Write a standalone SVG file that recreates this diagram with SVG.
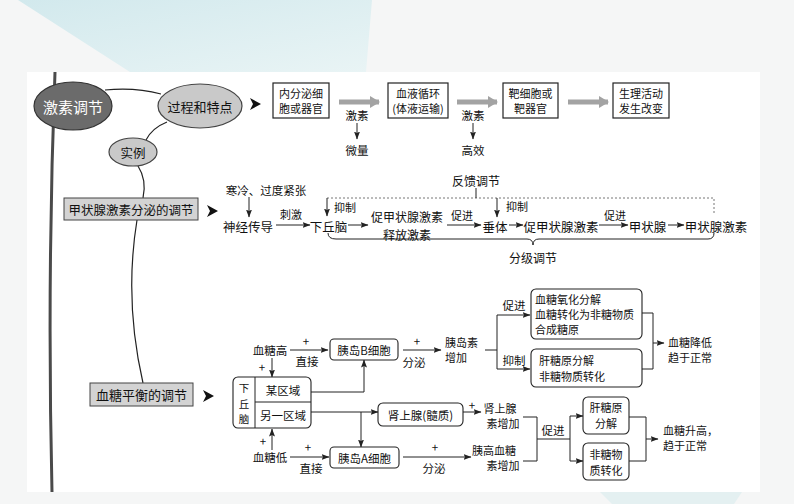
<svg xmlns="http://www.w3.org/2000/svg" width="794" height="504" viewBox="0 0 794 504">
<defs>
<style>
.t{font-family:"Noto Sans CJK SC","Liberation Sans",sans-serif;fill:#111;text-anchor:middle;dominant-baseline:central}
.s{font-size:11.5px}
.s2{font-size:11px}
.m{font-size:12.5px}
.l{text-anchor:start}
.box{fill:#fff;stroke:#222;stroke-width:1.2}
.rb{fill:#fff;stroke:#222;stroke-width:1.1}
.gb{fill:#d3d3d3;stroke:#444;stroke-width:1}
.ln{fill:none;stroke:#222;stroke-width:1}
.ar{fill:none;stroke:#222;stroke-width:1;marker-end:url(#ah)}
.ga{fill:none;stroke:#a3a3a3;stroke-width:5;marker-end:url(#gah)}
.cv{fill:none;stroke:#222;stroke-width:1.2}
.tri{fill:#111}
</style>
<marker id="ah" markerWidth="8" markerHeight="6" refX="7.5" refY="3" orient="auto" markerUnits="userSpaceOnUse"><path d="M0,0 L8,3 L0,6 L1.5,3 Z" fill="#222"/></marker>
<marker id="gah" markerWidth="10" markerHeight="12" refX="9" refY="6" orient="auto" markerUnits="userSpaceOnUse"><path d="M0,0 L10,6 L0,12 Z" fill="#a3a3a3"/></marker>
<linearGradient id="tg" x1="0" y1="0" x2="1" y2="1"><stop offset="0" stop-color="#d2e9ed"/><stop offset="1" stop-color="#e9f4f5"/></linearGradient>
</defs>
<rect x="0" y="0" width="794" height="504" fill="#f5f6f6"/>
<polygon points="18,0 372,0 366,72 130,72" fill="url(#tg)"/>
<polygon points="600,492 742,492 734,504 612,504" fill="#e4f0f1"/>
<rect x="27" y="72" width="733" height="420" fill="#fff"/>

<g id="connectors">
<path d="M55,72 Q47,280 52,492" fill="none" stroke="#4a4a4a" stroke-width="3"/>
<path class="cv" d="M105,90 Q135,87 161,94"/>
<path class="cv" d="M167,122 Q152,128 146,140"/>
<path class="cv" d="M138,166 Q147,180 143,198"/>
<path class="cv" d="M137,220 Q124,300 143,383"/>
<path class="tri" d="M250,98 L261,104 L250,110 L253,104 Z"/>
<path class="tri" d="M207,205 L218,211 L207,217 L210,211 Z"/>
<path class="tri" d="M203,390 L214,396 L203,402 L206,396 Z"/>
<path class="ga" d="M339,102 H379"/>
<path class="ga" d="M457,102 H497"/>
<path class="ga" d="M568,102 H608"/>
<path class="ar" d="M357,123 V139"/>
<path class="ar" d="M473,123 V139"/>
<path class="ar" d="M249,197 V217"/>
<path class="ar" d="M276,225 H310"/>
<path class="ar" d="M348,225 H368"/>
<path class="ar" d="M447,225 H481"/>
<path class="ar" d="M509,225 H523"/>
<path class="ar" d="M599,225 H628"/>
<path class="ar" d="M668,225 H684"/>
<path d="M327,198 H714 V215" fill="none" stroke="#777" stroke-width="1" stroke-dasharray="2,2"/>
<path class="ar" d="M327,198 V216"/>
<path class="ar" d="M497,198 V217"/>
<path class="ln" d="M476,188 V198"/>
<path class="ln" d="M328,233 Q328,239 336,239 H527 Q533,239 533,245 Q533,239 539,239 H708 Q714,239 714,233"/>
<path class="ar" d="M290,350 H328"/>
<path class="ar" d="M403,350 H441"/>
<path class="ln" d="M485,350 H497 M497,315 V369"/>
<path class="ar" d="M497,315 H530"/>
<path class="ar" d="M497,369 H530"/>
<path class="ln" d="M642,313 H653 V369 H642"/>
<path class="ar" d="M653,343 H664"/>
<path class="ar" d="M272,358 V377"/>
<path class="ar" d="M311,392 H364 V360"/>
<path class="ar" d="M311,412 H378"/>
<path class="ar" d="M361,412 V447"/>
<path class="ar" d="M463,412 H481"/>
<path class="ar" d="M272,450 V429"/>
<path class="ar" d="M290,457 H329"/>
<path class="ar" d="M403,457 H471"/>
<path class="ln" d="M523,417 H537 V461 H523 M537,439 H570 M570,416 V461"/>
<path class="ar" d="M570,416 H583"/>
<path class="ar" d="M570,461 H583"/>
<path class="ln" d="M629,417 H646 V461 H629"/>
<path class="ar" d="M646,439 H658"/>
</g>

<g id="n-jisu">
<ellipse cx="73" cy="106" rx="39" ry="24" fill="#6b6b6b" stroke="#333" stroke-width="1.2"/>
<text class="t" x="73" y="106" style="font-size:15px;fill:#fff">激素调节</text>
</g>
<g id="n-guocheng">
<ellipse cx="200" cy="106" rx="42" ry="22" fill="#c9c9c9" stroke="#444" stroke-width="1.2"/>
<text class="t" x="200" y="106" style="font-size:13px">过程和特点</text>
</g>
<g id="n-shili">
<ellipse cx="133" cy="152" rx="24" ry="14" fill="#c9c9c9" stroke="#444" stroke-width="1.2"/>
<text class="t" x="133" y="152" style="font-size:12.5px">实例</text>
</g>
<g id="n-jiazhuang">
<rect class="gb" x="64" y="198" width="134" height="22"/>
<text class="t m" x="131" y="209">甲状腺激素分泌的调节</text>
</g>
<g id="n-xuetang">
<rect class="gb" x="90" y="383" width="103" height="23"/>
<text class="t" x="141.5" y="394.5" style="font-size:13px">血糖平衡的调节</text>
</g>

<g id="n-top1"><rect class="box" x="273" y="83" width="56" height="35"/><text class="t s2"><tspan x="301" y="93">内分泌细</tspan><tspan x="301" y="108">胞或器官</tspan></text></g>
<g id="n-top2"><rect class="box" x="388" y="83" width="60" height="35"/><text class="t s2"><tspan x="418" y="93">血液循环</tspan><tspan x="418" y="108">(体液运输)</tspan></text></g>
<g id="n-top3"><rect class="box" x="503" y="83" width="55" height="35"/><text class="t s2"><tspan x="530.5" y="93">靶细胞或</tspan><tspan x="530.5" y="108">靶器官</tspan></text></g>
<g id="n-top4"><rect class="box" x="613" y="83" width="56" height="35"/><text class="t s2"><tspan x="641" y="93">生理活动</tspan><tspan x="641" y="108">发生改变</tspan></text></g>
<g id="lbl-top">
<text class="t s" x="357" y="115">激素</text><text class="t s" x="357" y="150">微量</text>
<text class="t s" x="473" y="115">激素</text><text class="t s" x="473" y="150">高效</text>
</g>

<g id="thyroid-row">
<text class="t s" x="266" y="190">寒冷、过度紧张</text>
<text class="t m" x="248" y="226">神经传导</text>
<text class="t" x="291" y="214" style="font-size:11px">刺激</text>
<text class="t m" x="328.5" y="226">下丘脑</text>
<text class="t" x="345" y="207" style="font-size:11px">抑制</text>
<text class="t" style="font-size:12px"><tspan x="407" y="216">促甲状腺激素</tspan><tspan x="407" y="234">释放激素</tspan></text>
<text class="t" x="462" y="215" style="font-size:11px">促进</text>
<text class="t m" x="495" y="226">垂体</text>
<text class="t" x="517" y="206" style="font-size:11px">抑制</text>
<text class="t m" x="561" y="226">促甲状腺激素</text>
<text class="t" x="615" y="215" style="font-size:11px">促进</text>
<text class="t m" x="647.5" y="226">甲状腺</text>
<text class="t m" x="716" y="226">甲状腺激素</text>
<text class="t" x="476" y="180" style="font-size:12px">反馈调节</text>
<text class="t" x="533" y="257" style="font-size:12px">分级调节</text>
</g>

<g id="n-bcell"><rect class="rb" x="330" y="339" width="68" height="21" rx="4"/><text class="t s" x="364" y="350">胰岛B细胞</text></g>
<g id="n-acell"><rect class="rb" x="330" y="447" width="69" height="21" rx="4"/><text class="t s" x="364.5" y="457.5">胰岛A细胞</text></g>
<g id="n-xqn">
<rect class="rb" x="233" y="377" width="78" height="51" rx="5"/>
<path class="ln" d="M255,377 V428 M255,402 H311"/>
<text class="t" style="font-size:10.5px"><tspan x="244" y="387">下</tspan><tspan x="244" y="402.5">丘</tspan><tspan x="244" y="418">脑</tspan></text>
<text class="t s" x="283" y="390">某区域</text>
<text class="t s" x="283" y="415">另一区域</text>
</g>
<g id="n-shenshang"><rect class="rb" x="378" y="403" width="85" height="23" rx="5"/><text class="t s" x="420.5" y="414.5">肾上腺(髓质)</text></g>
<g id="n-up1"><rect class="rb" x="531" y="289" width="111" height="50" rx="5"/>
<text class="t s2 l"><tspan x="535" y="299">血糖氧化分解</tspan><tspan x="535" y="314">血糖转化为非糖物质</tspan><tspan x="535" y="329">合成糖原</tspan></text></g>
<g id="n-up2"><rect class="rb" x="531" y="349" width="111" height="38" rx="5"/>
<text class="t s2 l"><tspan x="539" y="360">肝糖原分解</tspan><tspan x="539" y="376">非糖物质转化</tspan></text></g>
<g id="n-gan"><rect class="rb" x="583" y="397" width="46" height="37" rx="5"/><text class="t s2"><tspan x="606" y="407">肝糖原</tspan><tspan x="606" y="423">分解</tspan></text></g>
<g id="n-feitang"><rect class="rb" x="583" y="443" width="46" height="37" rx="5"/><text class="t s2"><tspan x="606" y="454">非糖物</tspan><tspan x="606" y="470">质转化</tspan></text></g>

<g id="glucose-labels">
<text class="t s" x="270" y="350">血糖高</text>
<text class="t s" x="306" y="341">+</text><text class="t s" x="307" y="361">直接</text>
<text class="t s" x="417" y="341">+</text><text class="t s" x="414" y="362">分泌</text>
<text class="t s2 l"><tspan x="445" y="342">胰岛素</tspan><tspan x="445" y="357">增加</tspan></text>
<text class="t s" x="514" y="305">促进</text><text class="t s" x="514" y="360">抑制</text>
<text class="t s2 l"><tspan x="668" y="342">血糖降低</tspan><tspan x="668" y="357">趋于正常</tspan></text>
<text class="t s" x="262" y="367">+</text>
<text class="t s" x="472" y="405">+</text>
<text class="t s2"><tspan x="500" y="408">肾上腺</tspan><tspan x="503" y="423">素增加</tspan></text>
<text class="t s" x="263" y="441">+</text>
<text class="t s" x="270" y="457">血糖低</text>
<text class="t s" x="308" y="447">+</text><text class="t s" x="311" y="468">直接</text>
<text class="t s" x="435" y="447">+</text><text class="t s" x="434" y="468">分泌</text>
<text class="t s2"><tspan x="494" y="450">胰高血糖</tspan><tspan x="503" y="465">素增加</tspan></text>
<text class="t s" x="553" y="430">促进</text>
<text class="t s2 l"><tspan x="663" y="430">血糖升高，</tspan><tspan x="663" y="445">趋于正常</tspan></text>
</g>
</svg>
